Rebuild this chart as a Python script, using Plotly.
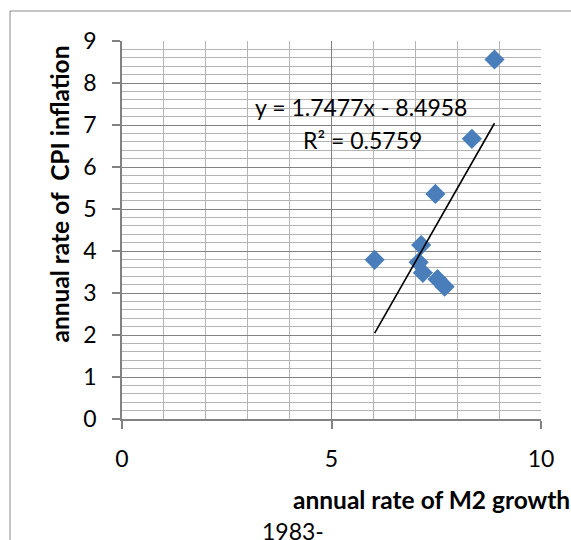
import plotly.graph_objects as go

# Data
m2_growth = [8.89, 8.35, 7.48, 7.14, 6.03, 7.08, 7.18, 7.53, 7.70]
cpi_inflation = [8.56, 6.67, 5.36, 4.14, 3.79, 3.73, 3.48, 3.33, 3.15]

slope = 1.7477
intercept = -8.4958
eq_label = "y = 1.7477x - 8.4958"
r2_label = "R² = 0.5759"

x_title = "annual rate of M2 growth"
y_title = "annual rate of  CPI inflation"
chart_title = "1983-"

x_fit = [min(m2_growth), max(m2_growth)]
y_fit = [slope * v + intercept for v in x_fit]

FONT = "Lato, Calibri, 'Open Sans', sans-serif"
MAJOR = "#828282"
MINOR = "#b4b4b4"
TXT = 23
TTL = 24.5

fig = go.Figure()
fig.add_trace(go.Scatter(
    x=m2_growth, y=cpi_inflation, mode="markers",
    marker=dict(symbol="diamond", size=15.5, color="#4a7ebb", line=dict(width=0)),
    showlegend=False, hoverinfo="x+y"))
fig.add_trace(go.Scatter(
    x=x_fit, y=y_fit, mode="lines",
    line=dict(color="black", width=1.6),
    showlegend=False, hoverinfo="skip"))

L, R, T, B = 122, 30, 41, 121
W, H = 571, 540
pw, ph = W - L - R, H - T - B

def px_x(px):
    return (px - L) / pw

def px_y(py):
    return (H - B - py) / ph

fig.update_layout(
    width=W, height=H,
    margin=dict(l=L, r=R, t=T, b=B, pad=0),
    paper_bgcolor="white", plot_bgcolor="white",
    font=dict(family=FONT, size=TXT, color="black"),
    xaxis=dict(
        range=[0, 10], dtick=5, tick0=0,
        showgrid=True, gridcolor=MAJOR, gridwidth=1,
        minor=dict(dtick=1, showgrid=True, gridcolor=MINOR, gridwidth=1, ticks=""),
        showline=True, linecolor=MAJOR, linewidth=1.5,
        ticks="outside", ticklen=8, tickcolor=MAJOR, tickwidth=1.5,
        zeroline=False, ticklabelstandoff=11,
        tickfont=dict(size=TXT, family=FONT, color="black"),
    ),
    yaxis=dict(
        range=[0, 9], dtick=1, tick0=0,
        showgrid=True, gridcolor=MAJOR, gridwidth=1,
        minor=dict(dtick=0.2, showgrid=True, gridcolor=MINOR, gridwidth=1, ticks=""),
        showline=True, linecolor=MAJOR, linewidth=1.5,
        ticks="outside", ticklen=8, tickcolor=MAJOR, tickwidth=1.5,
        zeroline=False, ticklabelstandoff=11,
        tickfont=dict(size=TXT, family=FONT, color="black"),
    ),
    shapes=[dict(type="rect", xref="paper", yref="paper",
                 x0=px_x(10), x1=px_x(600), y0=px_y(600), y1=px_y(11),
                 line=dict(color="#8a8a8a", width=1), fillcolor="rgba(0,0,0,0)",
                 layer="below")],
    annotations=[
        dict(text=eq_label, x=5.71, y=7.43, xref="x", yref="y",
             showarrow=False, font=dict(size=TXT, family=FONT, color="black")),
        dict(text=r2_label, x=5.73, y=6.64, xref="x", yref="y",
             showarrow=False, font=dict(size=TXT, family=FONT, color="black")),
        dict(text="<b>" + y_title + "</b>", x=px_x(42), y=px_y(194),
             xref="paper", yref="paper", textangle=-90, showarrow=False,
             font=dict(size=TTL, family=FONT, color="black")),
        dict(text="<b>" + x_title + "</b>", x=px_x(291), y=px_y(499),
             xref="paper", yref="paper", xanchor="left", yanchor="middle",
             showarrow=False, font=dict(size=TTL, family=FONT, color="black")),
        dict(text=chart_title, x=px_x(260), y=px_y(531),
             xref="paper", yref="paper", xanchor="left", yanchor="middle",
             showarrow=False, font=dict(size=TXT, family=FONT, color="black")),
    ],
)

fig.write_html("out.html")
